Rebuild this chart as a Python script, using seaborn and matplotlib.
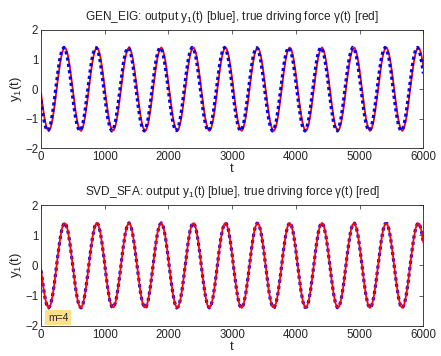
import matplotlib
matplotlib.use("Agg")
import matplotlib.pyplot as plt
import numpy as np
import pandas as pd
import seaborn as sns

# values every 30 time steps (t = 0 ... 6000)
T_STEP = 30

gamma = [
    -0.12, -0.63, -1.04, -1.32, -1.41, -1.31, -1.02, -0.60, -0.09, 0.43, 0.89, 1.23, 1.40, 1.37, 1.16, 0.78, 0.30,
    -0.22, -0.71, -1.11, -1.35, -1.41, -1.27, -0.95, -0.51, 0.01, 0.52, 0.96, 1.27, 1.41, 1.35, 1.10, 0.70, 0.21,
    -0.32, -0.80, -1.17, -1.37, -1.39, -1.22, -0.88, -0.42, 0.11, 0.61, 1.03, 1.31, 1.41, 1.31, 1.03, 0.61, 0.11,
    -0.41, -0.88, -1.22, -1.39, -1.38, -1.17, -0.80, -0.32, 0.20, 0.70, 1.10, 1.34, 1.41, 1.27, 0.97, 0.52, 0.01,
    -0.50, -0.95, -1.26, -1.41, -1.35, -1.11, -0.72, -0.22, 0.30, 0.78, 1.16, 1.37, 1.40, 1.23, 0.89, 0.43, -0.09,
    -0.60, -1.02, -1.31, -1.41, -1.32, -1.05, -0.63, -0.13, 0.40, 0.86, 1.21, 1.39, 1.38, 1.18, 0.81, 0.34, -0.19,
    -0.68, -1.09, -1.34, -1.41, -1.28, -0.98, -0.54, -0.03, 0.49, 0.94, 1.26, 1.40, 1.36, 1.12, 0.73, 0.24, -0.28,
    -0.77, -1.15, -1.37, -1.40, -1.24, -0.91, -0.45, 0.07, 0.58, 1.01, 1.30, 1.41, 1.33, 1.06, 0.65, 0.14, -0.38,
    -0.85, -1.20, -1.39, -1.38, -1.19, -0.83, -0.35, 0.17, 0.67, 1.08, 1.33, 1.41, 1.29, 0.99, 0.56, 0.05, -0.47,
    -0.92, -1.25, -1.40, -1.36, -1.13, -0.75, -0.26, 0.27, 0.75, 1.14, 1.36, 1.40, 1.24, 0.92, 0.46, -0.05, -0.56,
    -1.00, -1.29, -1.41, -1.33, -1.07, -0.66, -0.16, 0.36, 0.83, 1.19, 1.38, 1.39, 1.20, 0.84, 0.37, -0.15, -0.65,
    -1.06, -1.33, -1.41, -1.30, -1.00, -0.57, -0.06, 0.46, 0.91, 1.24, 1.40, 1.37, 1.14, 0.76,
]

y_gen_eig = [
    -0.38, -0.85, -1.20, -1.39, -1.38, -1.18, -0.83, -0.35, 0.17, 0.67, 1.08, 1.33, 1.41, 1.29, 0.99, 0.55, 0.04,
    -0.48, -0.93, -1.25, -1.40, -1.36, -1.13, -0.74, -0.25, 0.27, 0.76, 1.14, 1.36, 1.40, 1.24, 0.92, 0.46, -0.06,
    -0.57, -1.00, -1.29, -1.41, -1.33, -1.07, -0.66, -0.16, 0.36, 0.84, 1.19, 1.38, 1.39, 1.19, 0.84, 0.37, -0.16,
    -0.66, -1.07, -1.33, -1.41, -1.29, -1.00, -0.57, -0.06, 0.46, 0.91, 1.24, 1.40, 1.36, 1.14, 0.76, 0.27, -0.25,
    -0.74, -1.13, -1.36, -1.40, -1.25, -0.93, -0.48, 0.04, 0.55, 0.99, 1.29, 1.41, 1.34, 1.08, 0.67, 0.17, -0.35,
    -0.82, -1.18, -1.38, -1.39, -1.20, -0.85, -0.38, 0.14, 0.64, 1.05, 1.32, 1.41, 1.30, 1.01, 0.59, 0.08, -0.44,
    -0.90, -1.23, -1.40, -1.37, -1.15, -0.77, -0.29, 0.23, 0.73, 1.12, 1.35, 1.40, 1.26, 0.94, 0.49, -0.02, -0.53,
    -0.97, -1.28, -1.41, -1.34, -1.09, -0.69, -0.19, 0.33, 0.81, 1.17, 1.38, 1.39, 1.21, 0.87, 0.40, -0.12, -0.62,
    -1.04, -1.32, -1.41, -1.31, -1.02, -0.60, -0.09, 0.43, 0.89, 1.23, 1.40, 1.37, 1.16, 0.79, 0.31, -0.22, -0.71,
    -1.11, -1.35, -1.41, -1.27, -0.95, -0.51, 0.00, 0.52, 0.96, 1.27, 1.41, 1.35, 1.10, 0.70, 0.21, -0.31, -0.79,
    -1.16, -1.37, -1.39, -1.22, -0.88, -0.42, 0.10, 0.61, 1.03, 1.31, 1.41, 1.31, 1.04, 0.62, 0.11, -0.41, -0.87,
    -1.22, -1.39, -1.38, -1.17, -0.80, -0.32, 0.20, 0.70, 1.10, 1.34, 1.41, 1.27, 0.97, 0.53,
]

# SVD_SFA output sits on top of the driving force
y_svd_sfa = [
    -0.17, -0.63, -1.04, -1.32, -1.41, -1.31, -1.02, -0.60, -0.09, 0.43, 0.89, 1.23, 1.40, 1.37, 1.16, 0.78, 0.30,
    -0.22, -0.71, -1.11, -1.35, -1.41, -1.27, -0.95, -0.51, 0.01, 0.52, 0.96, 1.27, 1.41, 1.35, 1.10, 0.70, 0.21,
    -0.32, -0.80, -1.17, -1.37, -1.39, -1.22, -0.88, -0.42, 0.11, 0.61, 1.03, 1.31, 1.41, 1.31, 1.03, 0.61, 0.11,
    -0.41, -0.88, -1.22, -1.39, -1.38, -1.17, -0.80, -0.32, 0.20, 0.70, 1.10, 1.34, 1.41, 1.27, 0.97, 0.52, 0.01,
    -0.50, -0.95, -1.26, -1.41, -1.35, -1.11, -0.72, -0.22, 0.30, 0.78, 1.16, 1.37, 1.40, 1.23, 0.89, 0.43, -0.09,
    -0.60, -1.02, -1.31, -1.41, -1.32, -1.05, -0.63, -0.13, 0.40, 0.86, 1.21, 1.39, 1.38, 1.18, 0.81, 0.34, -0.19,
    -0.68, -1.09, -1.34, -1.41, -1.28, -0.98, -0.54, -0.03, 0.49, 0.94, 1.26, 1.40, 1.36, 1.12, 0.73, 0.24, -0.28,
    -0.77, -1.15, -1.37, -1.40, -1.24, -0.91, -0.45, 0.07, 0.58, 1.01, 1.30, 1.41, 1.33, 1.06, 0.65, 0.14, -0.38,
    -0.85, -1.20, -1.39, -1.38, -1.19, -0.83, -0.35, 0.17, 0.67, 1.08, 1.33, 1.41, 1.29, 0.99, 0.56, 0.05, -0.47,
    -0.92, -1.25, -1.40, -1.36, -1.13, -0.75, -0.26, 0.27, 0.75, 1.14, 1.36, 1.40, 1.24, 0.92, 0.46, -0.05, -0.56,
    -1.00, -1.29, -1.41, -1.33, -1.07, -0.66, -0.16, 0.36, 0.83, 1.19, 1.38, 1.39, 1.20, 0.84, 0.37, -0.15, -0.65,
    -1.06, -1.33, -1.41, -1.30, -1.00, -0.57, -0.06, 0.46, 0.91, 1.24, 1.40, 1.37, 1.14, 0.77,
]

x_ticks = [0, 1000, 2000, 3000, 4000, 5000, 6000]
y_ticks = [-2, -1, 0, 1, 2]
titles = [
    r"GEN_EIG: output $\mathregular{y_1}$(t) [blue], true driving force γ(t) [red]",
    r"SVD_SFA: output $\mathregular{y_1}$(t) [blue], true driving force γ(t) [red]",
]
note = "m=4"

sns.set_style("white")
plt.rcParams["font.family"] = ["Liberation Sans", "DejaVu Sans"]
plt.rcParams["axes.edgecolor"] = "#222222"
plt.rcParams["axes.linewidth"] = 0.6

df = pd.DataFrame({
    "t": np.arange(len(gamma)) * T_STEP,
    "gamma": gamma,
    "gen": y_gen_eig,
    "svd": y_svd_sfa,
})

fig = plt.figure(figsize=(4.41, 3.56), dpi=100)
ax_top = fig.add_axes([0.093, 0.583, 0.867, 0.333])
ax_bot = fig.add_axes([0.093, 0.085, 0.867, 0.339])

blue_kw = dict(color="#0000ff", linewidth=2.3, linestyle=(0, (1, 1)), estimator=None)
red_kw = dict(color="#ff0000", linewidth=1.3, estimator=None)

# top: GEN_EIG, dots drawn over the red line
sns.lineplot(data=df, x="t", y="gamma", ax=ax_top, **red_kw)
sns.lineplot(data=df, x="t", y="gen", ax=ax_top, **blue_kw)

# bottom: SVD_SFA, red line drawn over the dots
sns.lineplot(data=df, x="t", y="svd", ax=ax_bot, **blue_kw)
sns.lineplot(data=df, x="t", y="gamma", ax=ax_bot, **red_kw)

for ax, title in zip([ax_top, ax_bot], titles):
    ax.set_xlim(0, 6000)
    ax.set_ylim(-2, 2)
    ax.set_xticks(x_ticks)
    ax.set_yticks(y_ticks)
    ax.set_title(title, fontsize=8.6, pad=7)
    ax.set_xlabel("t", fontsize=9.5, labelpad=0)
    ax.set_ylabel(r"$\mathregular{y_1}$(t)", fontsize=9.5, labelpad=1)
    ax.tick_params(direction="in", length=3, width=0.5, top=True, right=True,
                   labelsize=8.3, pad=2, color="#222222")
    for s in ax.spines.values():
        s.set_visible(True)

ax_bot.text(110, -1.73, note, fontsize=7.5, ha="left", va="center",
            bbox=dict(boxstyle="square,pad=0.25", facecolor="#ffe08a", edgecolor="none"))

fig.savefig("out.png", dpi=100)
plt.close(fig)
